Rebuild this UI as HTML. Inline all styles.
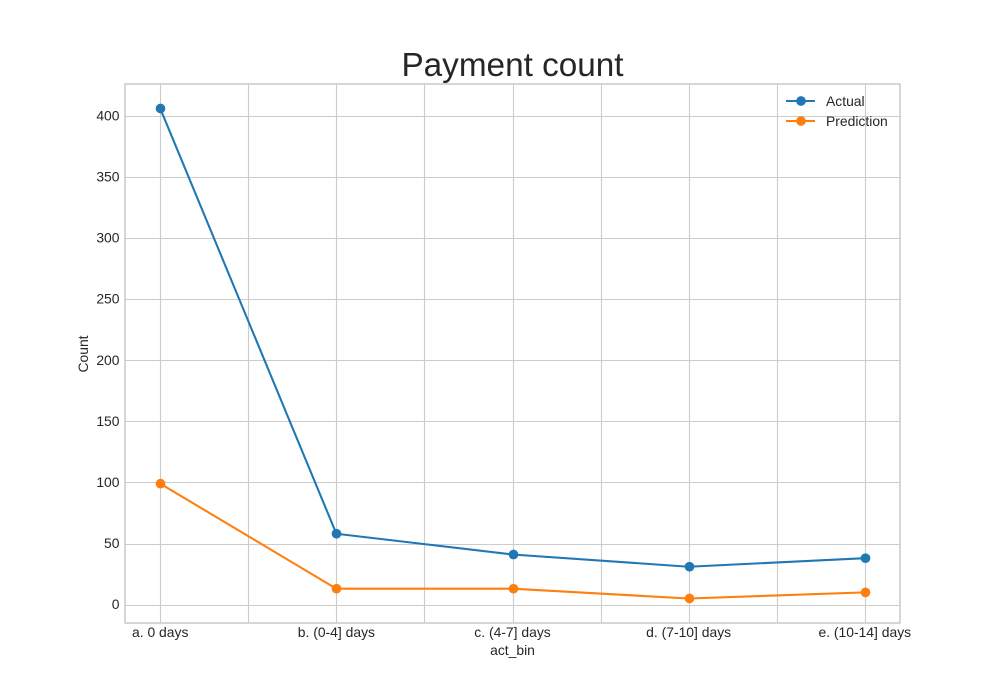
<!DOCTYPE html>
<html>
<head>
<meta charset="utf-8">
<title>Payment count</title>
<style>
html,body{margin:0;padding:0;background:#fff;}
svg{display:block;}
text{font-family:"Liberation Sans",Arial,sans-serif;fill:#262626;}
</style>
</head>
<body>
<svg id="chart" xmlns="http://www.w3.org/2000/svg" width="1000" height="700" viewBox="0 0 1000 700"></svg>
<script>
const categories = ["a. 0 days","b. (0-4] days","c. (4-7] days","d. (7-10] days","e. (10-14] days"];
const actualValues = [406,58,41,31,38];
const predictionValues = [99,13,13,5,10];
const yTickLabels = [0,50,100,150,200,250,300,350,400];
const xMinorGrid = [0.5,1.5,2.5,3.5];
const seriesNames = ["Actual","Prediction"];
const seriesColors = ["#1f77b4","#ff7f0e"];

const plot = {left:125,right:900,top:84,bottom:623};
const svg = document.getElementById('chart');
const NS = 'http://www.w3.org/2000/svg';

function make(tag, attrs, text){
  const el = document.createElementNS(NS, tag);
  for(const k in attrs){ el.setAttribute(k, attrs[k]); }
  if(text !== undefined){ el.textContent = text; }
  svg.appendChild(el);
  return el;
}

const allValues = actualValues.concat(predictionValues);
const dataMin = Math.min.apply(null, allValues);
const dataMax = Math.max.apply(null, allValues);
const yPad = (dataMax - dataMin) * 0.05;
const yLo = dataMin - yPad;
const yHi = dataMax + yPad;
const xLo = -0.05 * (categories.length - 1);
const xHi = (categories.length - 1) * 1.05;

function xScale(i){
  return plot.left + (i - xLo) / (xHi - xLo) * (plot.right - plot.left);
}
function yScale(v){
  return plot.bottom - (v - yLo) / (yHi - yLo) * (plot.bottom - plot.top);
}
function snap(p){
  return Math.round(p) + 0.5;
}

const GRID = '#cccccc';

yTickLabels.forEach(function(t){
  const y = yScale(t);
  const gy = snap(y);
  const line = make('line',{x1:plot.left,x2:plot.right,y1:gy,y2:gy,stroke:GRID,'stroke-width':1.1});
  
  
  const label = make('text',{x:119.5,y:y+4.6,'text-anchor':'end','font-size':13.9}, String(t));
  
  
});

categories.forEach(function(c,i){
  const x = xScale(i);
  const gx = snap(x);
  const line = make('line',{x1:gx,x2:gx,y1:plot.top,y2:plot.bottom,stroke:GRID,'stroke-width':1.1});
  
  
  const label = make('text',{x:x,y:637,'text-anchor':'middle','font-size':13.9}, c);
  
  
});

xMinorGrid.forEach(function(v,i){
  const gx = snap(xScale(v));
  const line = make('line',{x1:gx,x2:gx,y1:plot.top,y2:plot.bottom,stroke:GRID,'stroke-width':1.1});
  
  
});

const frame = make('rect',{x:plot.left,y:plot.top,width:plot.right-plot.left,height:plot.bottom-plot.top,fill:'none',stroke:GRID,'stroke-width':1.6});



function drawSeries(values, color, key){
  const pts = values.map(function(v,i){ return xScale(i).toFixed(2) + ',' + yScale(v).toFixed(2); }).join(' ');
  const line = make('polyline',{points:pts,fill:'none',stroke:color,'stroke-width':2.08,'stroke-linejoin':'round'});
  
  
  values.forEach(function(v,i){
    const dot = make('circle',{cx:snap(xScale(i)),cy:yScale(v),r:4.85,fill:color});
    
    
  });
}
drawSeries(actualValues, seriesColors[0], 'actual');
drawSeries(predictionValues, seriesColors[1], 'prediction');

seriesNames.forEach(function(name,i){
  const y = 101 + i * 20;
  const handle = make('line',{x1:786,x2:815,y1:y,y2:y,stroke:seriesColors[i],'stroke-width':2.08});
  
  
  const marker = make('circle',{cx:801,cy:y,r:4.85,fill:seriesColors[i]});
  
  
  const label = make('text',{x:826,y:y+5,'font-size':13.9}, name);
  
  
});

const title = make('text',{x:512.5,y:76,'text-anchor':'middle','font-size':33.3}, 'Payment count');



const xTitle = make('text',{x:512.5,y:655,'text-anchor':'middle','font-size':13.9}, 'act_bin');



const yTitle = make('text',{x:0,y:0,'text-anchor':'middle','font-size':13.9,transform:'translate(88,354) rotate(-90)'}, 'Count');


</script>
</body>
</html>
